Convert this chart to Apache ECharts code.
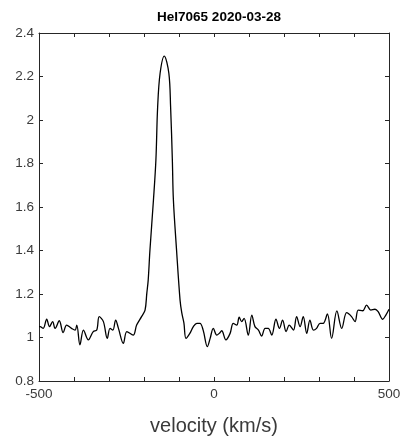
<!DOCTYPE html>
<html><head><meta charset="utf-8">
<script src="https://cdn.jsdelivr.net/npm/echarts@6/dist/echarts.min.js"></script>
<style>html,body{margin:0;padding:0;background:#fff}#c{width:419px;height:446px}</style>
</head><body><div id="c"></div>
<script>
const velocity = [-500,-497,-488,-478,-470,-461,-454,-442,-431,-421,-407,-397,-392,-383,-373,-359,-345,-335,-328,-316,-305,-297,-289,-281,-273,-259,-249,-231,-221,-207,-197,-192,-188,-183,-173,-166,-161,-154,-142,-129,-124,-119,-116,-107,-97,-92,-86,-80,-69,-59,-49,-40,-31,-19,-11,-2,8,15,22,34,46,55,65,72,79,86,98,108,117,127,136,146,155,165,177,187,196,206,215,227,236,246,255,265,274,284,293,303,312,324,336,351,365,379,393,403,412,425,436,448,460,469,482,491,500];
const flux = [1.05,1.05,1.042,1.084,1.05,1.073,1.042,1.077,1.022,1.057,1.042,1.034,1.057,0.966,1.034,0.989,1.027,1.034,1.096,1.073,0.996,1.042,1.034,1.08,1.042,0.973,1.027,1.011,1.057,1.096,1.126,1.203,1.264,1.402,1.632,1.816,2.061,2.215,2.294,2.215,2.061,1.816,1.632,1.402,1.172,1.113,1.067,0.996,1.019,1.05,1.065,1.065,1.034,0.958,0.996,1.042,1.011,1.019,1.031,0.989,1.019,1.065,1.057,1.093,1.073,1.088,1.011,1.103,1.05,1.034,1.007,1.042,1.042,1.011,1.084,1.042,1.08,1.027,1.057,1.034,1.096,1.05,1.096,1.019,1.08,1.034,1.042,1.065,1.065,1.108,0.996,1.122,1.042,1.114,1.096,1.073,1.126,1.123,1.149,1.126,1.13,1.119,1.084,1.103,1.13];
const xTicksShown = [-500, 0, 500];
const titleText = 'HeI7065 2020-03-28';
const xName = 'velocity (km/s)';

const axCol = '#262626';
const labCol = '#3a3a3a';
const font = 'Liberation Sans, Arial, Helvetica, sans-serif';
const chart = echarts.init(document.getElementById('c'));
const data = velocity.map((v,i)=>[v,flux[i]]);
const tickStyle = {show:true, inside:true, length:4, lineStyle:{color:axCol,width:1}};
chart.setOption({
  animation:false,
  title:{text:titleText, left:214, top:5, textAlign:'center',
    textStyle:{fontFamily:font, fontSize:13.5, fontWeight:'bold', color:'#000'}},
  grid:{left:39, right:30, top:33, bottom:65, containLabel:false},
  xAxis:[{type:'value', min:-500, max:500, interval:100, position:'bottom',
      axisLine:{show:true, onZero:false, lineStyle:{color:axCol,width:1}},
      axisTick:tickStyle, splitLine:{show:false},
      axisLabel:{color:labCol, fontFamily:font, fontSize:13.5, margin:6,
        formatter:v=>xTicksShown.includes(v)?String(v):''},
      name:xName, nameLocation:'middle', nameGap:35,
      nameTextStyle:{color:labCol, fontFamily:font, fontSize:20}},
    {type:'value', min:-500, max:500, interval:100, position:'top',
      axisLine:{show:true, onZero:false, lineStyle:{color:axCol,width:1}},
      axisTick:tickStyle, axisLabel:{show:false}, splitLine:{show:false}}],
  yAxis:[{type:'value', min:0.8, max:2.4, interval:0.2, position:'left',
      axisLine:{show:true, onZero:false, lineStyle:{color:axCol,width:1}},
      axisTick:tickStyle, splitLine:{show:false},
      axisLabel:{color:labCol, fontFamily:font, fontSize:13.5, margin:5,
        formatter:v=>String(Math.round(v*10)/10)}},
    {type:'value', min:0.8, max:2.4, interval:0.2, position:'right',
      axisLine:{show:true, onZero:false, lineStyle:{color:axCol,width:1}},
      axisTick:tickStyle, axisLabel:{show:false}, splitLine:{show:false}}],
  series:[{type:'line', data:data, xAxisIndex:0, yAxisIndex:0, showSymbol:false,
    smooth:0.35, lineStyle:{color:'#000', width:1.3}}]
});
</script></body></html>
